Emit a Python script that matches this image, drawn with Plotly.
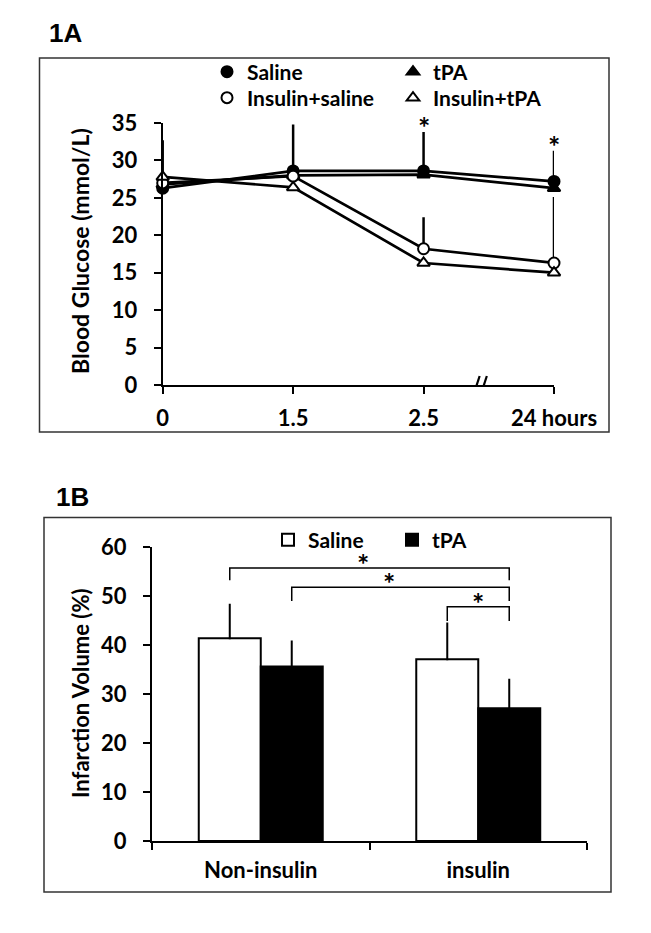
import plotly.graph_objects as go

# The page adds an 8 px body margin, so the figure is drawn 8 px smaller and
# all reference pixel positions are shifted by that margin.
OFF = 8
W, H = 651 - OFF, 933 - OFF

# ---------------- Panel 1A data ----------------
time_labels = ['0', '1.5', '2.5', '24 hours']
saline = [26.3, 28.6, 28.6, 27.2]
saline_sd = [6.4, 6.2, 5.2, 4.1]
tpa = [26.8, 28.0, 28.1, 26.3]
ins_saline = [27.0, 27.9, 18.2, 16.3]
ins_saline_sd = [0, 0, 4.2, 8.8]
ins_tpa = [27.8, 26.4, 16.3, 15.0]
star_1a_x = ['2.5', '24 hours']
star_1a_y = [33.8, 31.3]   # tops of the error bars the stars sit on

# ---------------- Panel 1B data ----------------
groups = ['Non-insulin', 'insulin']
b_saline = [41.4, 37.1]
b_saline_sd = [6.8, 7.3]
b_tpa = [35.6, 27.1]
b_tpa_sd = [5.1, 5.8]
# significance brackets: (x_start, x_end, y_top, y_leg_bottom)
brackets = [(-0.1425, 1.1425, 55.7, 53.2), (0.1425, 1.1425, 51.8, 49.0), (0.8575, 1.1425, 47.8, 44.9)]
star_1b_x = [0.47, 0.59, 1.0]
star_1b_y = [55.7, 51.8, 47.8]


def px(x):
    return (x - OFF) / W


def py(y):
    return 1 - (y - OFF) / H


FONT = 'Lato'
fig = go.Figure()

series = [('Saline', saline, 'circle', 'black', saline_sd, 'legend'),
          ('tPA', tpa, 'triangle-up', 'black', None, 'legend'),
          ('Insulin+saline', ins_saline, 'circle', 'white', ins_saline_sd, 'legend2'),
          ('Insulin+tPA', ins_tpa, 'triangle-up', 'white', None, 'legend2')]
for name, vals, sym, fill, sd, lg in series:
    fig.add_trace(go.Scatter(x=time_labels, y=vals, mode='lines', line=dict(color='black', width=2.7),
                             showlegend=False, hoverinfo='skip', xaxis='x', yaxis='y', cliponaxis=False))
for name, vals, sym, fill, sd, lg in series:
    err = None
    if sd is not None:
        err = dict(type='data', symmetric=False, array=sd, arrayminus=[0] * len(sd),
                   color='black', thickness=2.5, width=0)
    fig.add_trace(go.Scatter(x=time_labels, y=vals, mode='markers', name=name,
                             marker=dict(symbol=sym, size=11, color=fill, line=dict(color='black', width=2)),
                             error_y=err, xaxis='x', yaxis='y', cliponaxis=False, legend=lg))

fig.add_trace(go.Bar(x=groups, y=b_saline, name='Saline', marker=dict(color='white', line=dict(color='black', width=2)),
                     error_y=dict(type='data', symmetric=False, array=b_saline_sd, arrayminus=[0, 0],
                                  color='black', thickness=2, width=1),
                     xaxis='x2', yaxis='y2', legend='legend3'))
fig.add_trace(go.Bar(x=groups, y=b_tpa, name='tPA', marker=dict(color='black', line=dict(color='black', width=2)),
                     error_y=dict(type='data', symmetric=False, array=b_tpa_sd, arrayminus=[0, 0],
                                  color='black', thickness=2, width=1),
                     xaxis='x2', yaxis='y2', legend='legend3'))

tickfont = dict(family=FONT, size=22, color='black', weight=700)
axis_common = dict(showline=True, linecolor='black', linewidth=2, ticks='outside', ticklen=7, tickwidth=2,
                   tickcolor='black', showgrid=False, zeroline=False, tickfont=tickfont, fixedrange=True,
                   automargin=False)

shapes = []
shapes.append(dict(type='rect', xref='paper', yref='paper', x0=px(39.5), x1=px(609), y0=py(432), y1=py(58),
                   line=dict(color='#333333', width=1.5)))
shapes.append(dict(type='rect', xref='paper', yref='paper', x0=px(44), x1=px(611), y0=py(892), y1=py(517.5),
                   line=dict(color='#333333', width=1.5)))
shapes.append(dict(type='rect', xref='x', yref='y', x0=2.4, x1=2.48, y0=-0.6, y1=0.6,
                   fillcolor='white', line=dict(width=0), layer='above'))
for off in (0.0, 0.055):
    shapes.append(dict(type='line', xref='x', yref='y', x0=2.385 + off, x1=2.43 + off, y0=-1.2, y1=1.2,
                       line=dict(color='black', width=2.2), layer='above'))
for x0, x1, yt, yb in brackets:
    shapes.append(dict(type='path', xref='x2', yref='y2',
                       path=f'M {x0},{yb} L {x0},{yt} L {x1},{yt} L {x1},{yb}',
                       line=dict(color='black', width=1.5)))

annotations = []
annotations.append(dict(text='1A', x=px(47), y=py(33), xref='paper', yref='paper', xanchor='left', yanchor='middle',
                        showarrow=False, font=dict(family='Liberation Sans', size=26, color='black', weight=700)))
annotations.append(dict(text='1B', x=px(54), y=py(497), xref='paper', yref='paper', xanchor='left', yanchor='middle',
                        showarrow=False, font=dict(family='Liberation Sans', size=26, color='black', weight=700)))
annotations.append(dict(text='Blood Glucose (mmol/L)', x=px(80), y=py(251), xref='paper', yref='paper',
                        xanchor='center', yanchor='middle',
                        textangle=-90, showarrow=False, font=dict(family=FONT, size=23, color='black', weight=700)))
annotations.append(dict(text='Infarction Volume (%)', x=px(80), y=py(694), xref='paper', yref='paper',
                        xanchor='center', yanchor='middle',
                        textangle=-90, showarrow=False, font=dict(family=FONT, size=22, color='black', weight=700)))
for sx, sy in zip(star_1a_x, star_1a_y):
    # position by category index so numeric-looking labels are not read as numbers
    annotations.append(dict(text='*', x=time_labels.index(sx), y=sy, xref='x', yref='y', showarrow=False,
                            xanchor='center', yanchor='bottom', yshift=-14,
                            font=dict(family=FONT, size=29, color='black', weight=700)))
for sx, sy in zip(star_1b_x, star_1b_y):
    annotations.append(dict(text='*', x=sx, y=sy, xref='x2', yref='y2', showarrow=False,
                            xanchor='center', yanchor='bottom', yshift=-15,
                            font=dict(family=FONT, size=29, color='black', weight=700)))

legend_font = dict(family=FONT, size=21, color='black', weight=700)
leg_common = dict(xanchor='left', yanchor='middle', orientation='h', font=legend_font,
                  bgcolor='rgba(0,0,0,0)', itemwidth=30, entrywidthmode='pixels')
fig.update_layout(
    template='none',
    width=W, height=H, margin=dict(l=0, r=0, t=0, b=0, autoexpand=False),
    paper_bgcolor='white', plot_bgcolor='rgba(0,0,0,0)',
    xaxis=dict(domain=[px(162.7), px(554)], range=[0, 3], type='category', anchor='y',
               ticklabelstandoff=6, **axis_common),
    yaxis=dict(domain=[py(385), py(123)], range=[0, 35], dtick=5, anchor='x',
               ticklabelstandoff=12, **axis_common),
    xaxis2=dict(domain=[px(152), px(587)], range=[-0.5, 1.5], type='category', anchor='y2',
                tickson='boundaries', ticklabelstandoff=9, **axis_common),
    yaxis2=dict(domain=[py(841), py(547)], range=[0, 60], dtick=10, anchor='x2',
                ticklabelstandoff=12, **axis_common),
    barmode='group', bargap=0.43, bargroupgap=0,
    legend=dict(x=px(207), y=py(72), entrywidth=141, **leg_common),
    legend2=dict(x=px(207), y=py(98), entrywidth=141, **leg_common),
    legend3=dict(x=px(268), y=py(540), entrywidth=79, **leg_common),
    shapes=shapes, annotations=annotations, showlegend=True,
)

fig.write_html('out.html')
